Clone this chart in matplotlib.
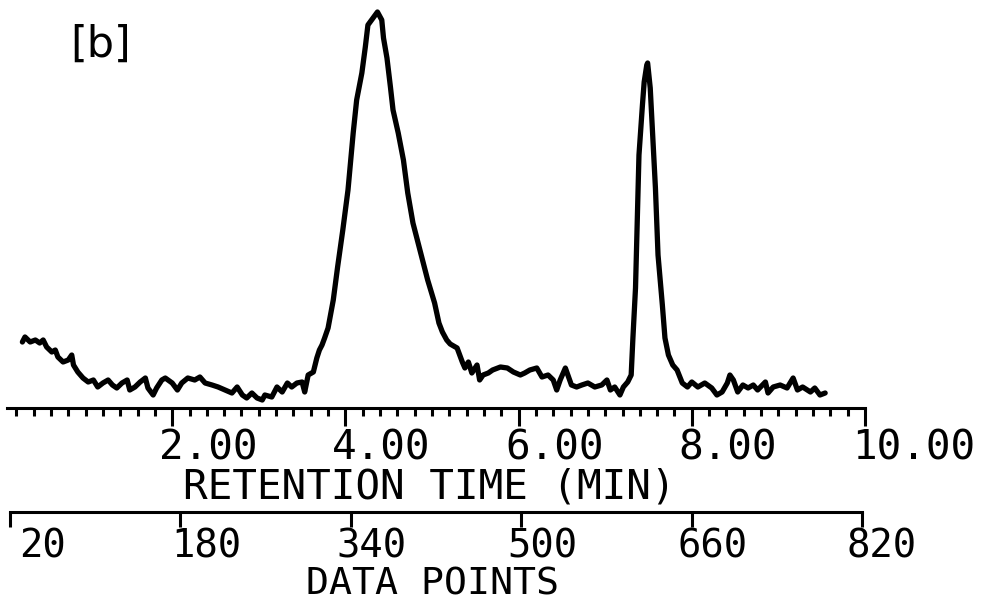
import matplotlib
matplotlib.use("Agg")
import matplotlib.pyplot as plt
import matplotlib.transforms as mtransforms
from matplotlib.ticker import FixedLocator
import numpy as np

# ---------------- data ----------------
time_min = [0.27, 0.30, 0.36, 0.42, 0.47, 0.51, 0.55, 0.61, 0.65, 0.68, 0.74, 0.80, 0.84,
            0.86, 0.91, 0.97, 1.03, 1.09, 1.14, 1.20, 1.26, 1.31, 1.36, 1.42, 1.48, 1.51,
            1.57, 1.63, 1.69, 1.72, 1.78, 1.82, 1.88, 1.92, 2.00, 2.06, 2.11, 2.18, 2.26,
            2.32, 2.38, 2.46, 2.53, 2.61, 2.69, 2.75, 2.81, 2.86, 2.92, 2.98, 3.04, 3.07,
            3.15, 3.21, 3.27, 3.33, 3.38, 3.44, 3.50, 3.53, 3.57, 3.63,
            3.67, 3.70, 3.73, 3.76, 3.80, 3.86, 3.91, 3.97, 4.03, 4.09, 4.13, 4.19, 4.23,
            4.26, 4.32, 4.37, 4.42, 4.44, 4.48, 4.52, 4.55, 4.61, 4.67, 4.72, 4.78, 4.86,
            4.95, 5.03, 5.08, 5.12, 5.17, 5.21,
            5.29, 5.32, 5.35, 5.38, 5.42, 5.46, 5.52, 5.55, 5.59, 5.65, 5.70, 5.79, 5.87,
            5.94, 6.02, 6.07, 6.13, 6.21, 6.27, 6.34, 6.40, 6.44, 6.48, 6.54, 6.61, 6.67,
            6.73, 6.80, 6.88, 6.96, 7.02, 7.06, 7.11, 7.17, 7.21, 7.26,
            7.30, 7.32, 7.35, 7.37, 7.39, 7.43, 7.45, 7.48, 7.49, 7.52, 7.54, 7.58, 7.61,
            7.66, 7.69, 7.73, 7.78, 7.83, 7.89,
            7.95, 8.00, 8.07, 8.15, 8.23, 8.29, 8.35, 8.41, 8.44, 8.48, 8.53, 8.59, 8.65,
            8.71, 8.76, 8.85, 8.88, 8.94, 9.02, 9.10, 9.17, 9.22, 9.28, 9.37, 9.42, 9.48,
            9.54]
signal = [66, 71, 66, 68, 65, 68, 61, 56, 58, 51, 46, 48, 53,
          43, 36, 30, 26, 28, 21, 25, 28, 23, 20, 25, 28, 18,
          21, 26, 30, 20, 13, 20, 28, 30, 25, 18, 25, 30, 28,
          31, 25, 23, 21, 18, 15, 21, 13, 10, 15, 10, 8, 13,
          11, 21, 16, 25, 21, 25, 26, 16, 33, 36,
          50, 58, 63, 70, 80, 108, 141, 178, 218, 275, 308, 335, 361,
          383, 390, 396, 388, 370, 350, 321, 298, 275, 248, 215, 185, 158,
          128, 105, 85, 76, 68, 64,
          60, 53, 46, 40, 46, 35, 43, 28, 33, 35, 38, 41, 40,
          36, 33, 35, 38, 40, 31, 33, 28, 18, 28, 40, 23, 21,
          23, 25, 21, 23, 28, 18, 21, 13, 21, 26,
          33, 70, 120, 186, 253, 303, 326, 343, 345, 320, 286, 220, 153,
          103, 70, 53, 43, 38, 25,
          21, 26, 21, 25, 20, 13, 16, 25, 33, 28, 16, 23, 20,
          23, 18, 26, 15, 21, 23, 20, 30, 18, 21, 16, 20, 13,
          15]

rt_ticks = [2, 4, 6, 8, 10]
rt_labels = ["2.00", "4.00", "6.00", "8.00", "10.00"]
dp_ticks = [20, 180, 340, 500, 660, 820]
dp_labels = ["20", "180", "340", "500", "660", "820"]
panel_label = "[b]"
rt_title = "RETENTION TIME (MIN)"
dp_title = "DATA POINTS"

# ---------------- layout ----------------
W, H = 989, 603
fig = plt.figure(figsize=(W / 100, H / 100), dpi=100)
fig.patch.set_facecolor("white")


def fx(px):
    return px / W


def fy(py):
    return 1 - py / H


mono = "DejaVu Sans Mono"
fs = 29.5
fs_low = 28
lw_axis = 2.2

# main chromatogram axes
ax = fig.add_axes([fx(-1), fy(408), fx(866), fy(0) - fy(408)])
ax.plot(time_min, signal, color="black", lw=3.8, solid_joinstyle="round",
        solid_capstyle="round")
ax.set_xlim(0, 10)
ax.set_ylim(0, 408)
for s in ["left", "right", "top"]:
    ax.spines[s].set_visible(False)
ax.spines["bottom"].set_linewidth(lw_axis)
ax.spines["bottom"].set_bounds(0.09, 10)
ax.set_yticks([])
ax.xaxis.set_major_locator(FixedLocator(rt_ticks))
minor_pos = [m for m in np.round(np.arange(0.2, 10.0, 0.2), 2) if m not in rt_ticks]
ax.xaxis.set_minor_locator(FixedLocator(minor_pos))
ax.set_xticklabels(rt_labels)
ax.tick_params(axis="x", which="major", direction="out", length=13, width=lw_axis,
               pad=2, labelsize=fs)
ax.tick_params(axis="x", which="minor", direction="out", length=5.5, width=lw_axis)
for lab in ax.get_xticklabels():
    lab.set_fontfamily(mono)
    lab.set_horizontalalignment("left")
    lab.set_transform(lab.get_transform() +
                      mtransforms.ScaledTranslation(-13 / 100, 0, fig.dpi_scale_trans))

# data-points axis
ax2 = fig.add_axes([fx(0), fy(512), fx(865), 0.001])
ax2.set_xlim(10.61, 822.8)
for s in ["left", "right", "top"]:
    ax2.spines[s].set_visible(False)
ax2.spines["bottom"].set_linewidth(lw_axis)
ax2.spines["bottom"].set_bounds(20, 820)
ax2.set_yticks([])
ax2.set_xticks(dp_ticks)
ax2.set_xticklabels(dp_labels)
ax2.tick_params(axis="x", direction="out", length=10.8, width=lw_axis, pad=0.5,
                labelsize=fs_low)
offsets = [9, -9, -14, -14, -14, -16]
for lab, off in zip(ax2.get_xticklabels(), offsets):
    lab.set_fontfamily(mono)
    lab.set_horizontalalignment("left")
    lab.set_transform(lab.get_transform() +
                      mtransforms.ScaledTranslation(off / 100, 0, fig.dpi_scale_trans))

# axis titles and panel label
fig.text(fx(429), fy(498), rt_title, ha="center", va="baseline",
         fontsize=fs, family=mono)
fig.text(fx(432), fy(602.5), dp_title, ha="center", va="bottom",
         fontsize=27.5, family=mono)
fig.text(fx(70), fy(57), panel_label, ha="left", va="baseline",
         fontsize=31, family="DejaVu Sans")

fig.savefig("out.png", dpi=100, facecolor="white")
